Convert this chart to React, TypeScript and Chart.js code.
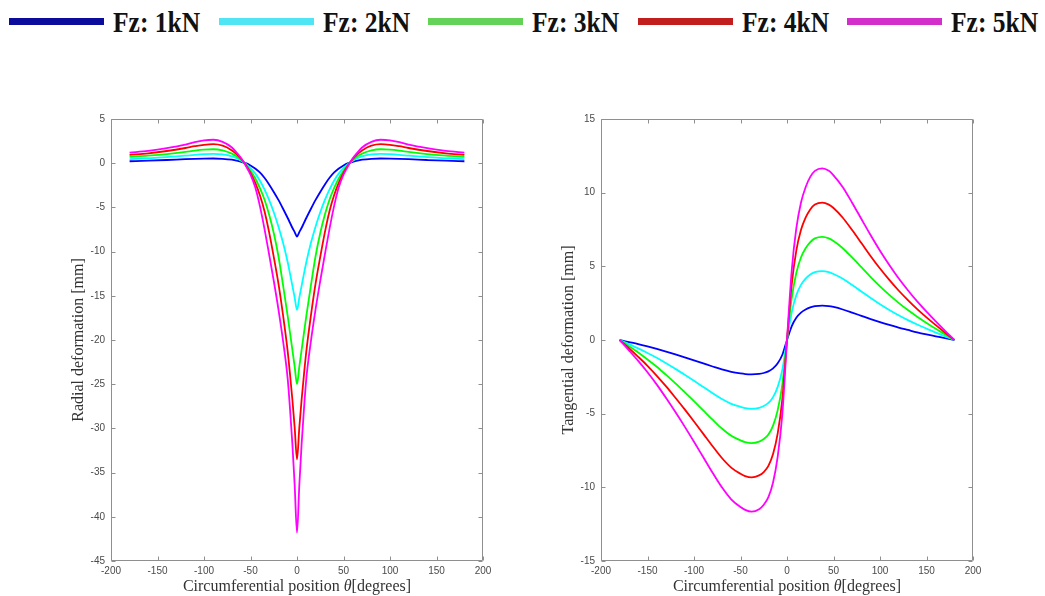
import React, { useEffect, useRef } from 'react';
import { Chart, registerables } from 'chart.js';

Chart.register(...registerables);

const seriesNames = ['Fz: 1kN', 'Fz: 2kN', 'Fz: 3kN', 'Fz: 4kN', 'Fz: 5kN'];
const lineColors = ['#0000ff', '#00ffff', '#00ff00', '#ff0000', '#ff00ff'];
const legendColors = ['#0c0c9c', '#4fe5f4', '#64d257', '#c21e1e', '#d22ec9'];

// Radial deformation [mm] vs circumferential position [deg]
const radialTheta = [-180, -160, -140, -120, -110, -100, -90, -80, -70, -65, -60, -55, -50, -45, -40, -35, -30, -25, -20, -15, -10, -7.5, -5, -2.5, 0,
  2.5, 5, 7.5, 10, 15, 20, 25, 30, 35, 40, 45, 50, 55, 60, 65, 70, 80, 90, 100, 110, 120, 140, 160, 180];
const radial1 = [0.22, 0.28, 0.36, 0.45, 0.49, 0.52, 0.53, 0.50, 0.40, 0.30, 0.15, 0.00, -0.25, -0.60, -1.05, -1.65, -2.40, -3.25, -4.15, -5.15, -6.20, -6.75, -7.30, -7.80, -8.30,
  -7.80, -7.30, -6.75, -6.20, -5.15, -4.15, -3.25, -2.40, -1.65, -1.05, -0.60, -0.25, 0.00, 0.15, 0.30, 0.40, 0.50, 0.53, 0.52, 0.49, 0.45, 0.36, 0.28, 0.22];
const radial2 = [0.45, 0.55, 0.68, 0.85, 0.95, 1.02, 1.06, 1.00, 0.78, 0.58, 0.28, -0.08, -0.55, -1.15, -1.95, -2.95, -4.15, -5.55, -7.15, -9.00, -11.20, -12.50, -13.85, -15.20, -16.60,
  -15.20, -13.85, -12.50, -11.20, -9.00, -7.15, -5.55, -4.15, -2.95, -1.95, -1.15, -0.55, -0.08, 0.28, 0.58, 0.78, 1.00, 1.06, 1.02, 0.95, 0.85, 0.68, 0.55, 0.45];
const radial3 = [0.72, 0.85, 1.03, 1.28, 1.43, 1.54, 1.58, 1.45, 1.08, 0.78, 0.38, -0.15, -0.85, -1.70, -2.80, -4.10, -5.80, -7.90, -10.50, -13.80, -17.30, -19.20, -21.10, -23.00, -25.00,
  -23.00, -21.10, -19.20, -17.30, -13.80, -10.50, -7.90, -5.80, -4.10, -2.80, -1.70, -0.85, -0.15, 0.38, 0.78, 1.08, 1.45, 1.58, 1.54, 1.43, 1.28, 1.03, 0.85, 0.72];
const radial4 = [0.95, 1.12, 1.38, 1.72, 1.92, 2.08, 2.15, 1.98, 1.45, 1.02, 0.48, -0.22, -1.10, -2.20, -3.60, -5.40, -7.80, -10.60, -13.60, -17.20, -21.30, -23.90, -26.70, -29.90, -33.50,
  -29.90, -26.70, -23.90, -21.30, -17.20, -13.60, -10.60, -7.80, -5.40, -3.60, -2.20, -1.10, -0.22, 0.48, 1.02, 1.45, 1.98, 2.15, 2.08, 1.92, 1.72, 1.38, 1.12, 0.95];
const radial5 = [1.20, 1.40, 1.70, 2.10, 2.38, 2.58, 2.65, 2.42, 1.78, 1.20, 0.55, -0.30, -1.30, -2.70, -4.80, -7.40, -10.30, -13.30, -16.50, -20.10, -24.40, -27.80, -31.70, -36.40, -41.80,
  -36.40, -31.70, -27.80, -24.40, -20.10, -16.50, -13.30, -10.30, -7.40, -4.80, -2.70, -1.30, -0.30, 0.55, 1.20, 1.78, 2.42, 2.65, 2.58, 2.38, 2.10, 1.70, 1.40, 1.20];

// Tangential deformation [mm] vs circumferential position [deg]
const tangTheta = [-180, -170, -160, -150, -140, -130, -120, -110, -100, -90, -80, -70, -60, -50, -45, -38, -30, -25, -20, -15, -10, -5, 0,
  5, 10, 15, 20, 25, 30, 38, 45, 50, 60, 70, 80, 90, 100, 110, 120, 130, 140, 150, 160, 170, 180];
const tang1 = [0, -0.14, -0.28, -0.44, -0.61, -0.79, -0.98, -1.18, -1.38, -1.59, -1.80, -2.00, -2.16, -2.27, -2.31, -2.33, -2.30, -2.24, -2.13, -1.93, -1.58, -1.00, 0,
  0.93, 1.51, 1.86, 2.07, 2.21, 2.30, 2.33, 2.30, 2.24, 2.07, 1.86, 1.64, 1.42, 1.21, 1.02, 0.84, 0.68, 0.52, 0.38, 0.25, 0.12, 0];
const tang2 = [0, -0.28, -0.57, -0.88, -1.21, -1.58, -1.96, -2.36, -2.77, -3.19, -3.61, -4.01, -4.33, -4.54, -4.62, -4.67, -4.60, -4.48, -4.27, -3.88, -3.18, -2.01, 0,
  1.87, 3.04, 3.74, 4.16, 4.44, 4.60, 4.67, 4.60, 4.48, 4.16, 3.74, 3.29, 2.85, 2.43, 2.04, 1.68, 1.35, 1.05, 0.77, 0.50, 0.25, 0];
const tang3 = [0, -0.42, -0.85, -1.32, -1.82, -2.37, -2.94, -3.54, -4.15, -4.78, -5.41, -6.01, -6.50, -6.81, -6.93, -7.00, -6.90, -6.72, -6.41, -5.81, -4.76, -3.01, 0,
  2.80, 4.55, 5.60, 6.23, 6.65, 6.90, 7.00, 6.90, 6.72, 6.23, 5.60, 4.94, 4.27, 3.64, 3.06, 2.52, 2.03, 1.58, 1.16, 0.76, 0.37, 0];
const tang4 = [0, -0.56, -1.14, -1.75, -2.43, -3.15, -3.92, -4.71, -5.53, -6.37, -7.21, -8.01, -8.66, -9.08, -9.24, -9.33, -9.19, -8.96, -8.54, -7.74, -6.34, -4.01, 0,
  3.73, 6.06, 7.46, 8.30, 8.86, 9.19, 9.33, 9.19, 8.96, 8.30, 7.46, 6.58, 5.69, 4.85, 4.08, 3.36, 2.71, 2.10, 1.54, 1.01, 0.49, 0];
const tang5 = [0, -0.70, -1.42, -2.19, -3.03, -3.94, -4.89, -5.88, -6.91, -7.96, -9.01, -10.00, -10.81, -11.34, -11.53, -11.65, -11.48, -11.18, -10.66, -9.67, -7.92, -5.01, 0,
  4.66, 7.57, 9.32, 10.37, 11.07, 11.48, 11.65, 11.48, 11.18, 10.37, 9.32, 8.21, 7.11, 6.06, 5.09, 4.19, 3.38, 2.62, 1.92, 1.26, 0.62, 0];

const xTitleParts = ['Circumferential position ', 'θ', '[degrees]'];
const radialTitle = 'Radial deformation [mm]';
const tangTitle = 'Tangential deformation [mm]';

const tickFont = { family: "'Liberation Sans', Arial, sans-serif", size: 10 };
const tickColor = '#4a4a4a';
const frameColor = '#8f8f8f';

const framePlugin = {
  id: 'matlabFrame',
  afterDraw(chart: any) {
    const { ctx, chartArea: a, scales } = chart;
    const L = Math.round(a.left) + 0.5;
    const R = Math.round(a.right) - 0.5;
    const T = Math.round(a.top) + 0.5;
    const B = Math.round(a.bottom) - 0.5;
    ctx.save();
    ctx.strokeStyle = frameColor;
    ctx.lineWidth = 1;
    ctx.beginPath();
    ctx.rect(L, T, R - L, B - T);
    ctx.stroke();
    const tl = 4;
    ctx.beginPath();
    scales.x.ticks.forEach((t: any) => {
      const px = Math.round(scales.x.getPixelForValue(t.value)) + 0.5;
      ctx.moveTo(px, B); ctx.lineTo(px, B - tl);
      ctx.moveTo(px, T); ctx.lineTo(px, T + tl);
    });
    scales.y.ticks.forEach((t: any) => {
      const py = Math.round(scales.y.getPixelForValue(t.value)) + 0.5;
      ctx.moveTo(L, py); ctx.lineTo(L + tl, py);
      ctx.moveTo(R, py); ctx.lineTo(R - tl, py);
    });
    ctx.stroke();

    // x-axis title with italic theta
    const normal = "16px 'Liberation Serif', 'Times New Roman', serif";
    const italic = "italic 16px 'Liberation Serif', 'Times New Roman', serif";
    const fonts = [normal, italic, normal];
    const widths = xTitleParts.map((p, i) => { ctx.font = fonts[i]; return ctx.measureText(p).width; });
    const total = widths.reduce((s, w) => s + w, 0);
    let x = (a.left + a.right) / 2 - total / 2;
    const y = a.bottom + 26;
    ctx.fillStyle = '#333333';
    ctx.textBaseline = 'middle';
    ctx.textAlign = 'left';
    xTitleParts.forEach((p, i) => {
      ctx.font = fonts[i];
      ctx.fillText(p, x, y);
      x += widths[i];
    });
    ctx.restore();
  },
};

function makeConfig(theta: number[], series: number[][], yMin: number, yMax: number, yTitle: string): any {
  return {
    type: 'line',
    data: {
      datasets: series.map((vals, i) => ({
        label: seriesNames[i],
        data: theta.map((t, j) => ({ x: t, y: vals[j] })),
        borderColor: lineColors[i],
        backgroundColor: lineColors[i],
        borderWidth: 1.8,
        pointRadius: 0,
        fill: false,
        cubicInterpolationMode: 'monotone',
        order: 4 - i,
      })),
    },
    options: {
      animation: false,
      responsive: false,
      maintainAspectRatio: false,
      layout: { padding: { top: 19, right: 17, left: 0, bottom: 0 } },
      plugins: { legend: { display: false }, tooltip: { enabled: false } },
      scales: {
        x: {
          type: 'linear',
          min: -200,
          max: 200,
          grid: { display: false, drawTicks: false },
          border: { display: false },
          ticks: { stepSize: 50, padding: 4, font: tickFont, color: tickColor, maxRotation: 0, autoSkip: false },
          afterFit: (s: any) => { s.height = 35; },
        },
        y: {
          type: 'linear',
          min: yMin,
          max: yMax,
          grid: { display: false, drawTicks: false },
          border: { display: false },
          ticks: { stepSize: 5, padding: 6, font: tickFont, color: tickColor, autoSkip: false },
          title: {
            display: true,
            text: yTitle,
            color: '#333333',
            font: { family: "'Liberation Serif', 'Times New Roman', serif", size: 16 },
            padding: { top: 9, bottom: 0 },
          },
          afterFit: (s: any) => { s.width = 51; },
        },
      },
    },
    plugins: [framePlugin],
  };
}

function ChartCanvas({ config, left, top }: { config: any; left: number; top: number }) {
  const ref = useRef<HTMLCanvasElement | null>(null);
  useEffect(() => {
    if (!ref.current) return;
    const chart = new Chart(ref.current, config);
    return () => chart.destroy();
  }, [config]);
  return (
    <canvas
      ref={ref}
      width={440}
      height={496}
      style={{ position: 'absolute', left, top, width: 440, height: 496 }}
    />
  );
}

const radialConfig = makeConfig(radialTheta, [radial1, radial2, radial3, radial4, radial5], -45, 5, radialTitle);
const tangConfig = makeConfig(tangTheta, [tang1, tang2, tang3, tang4, tang5], -15, 15, tangTitle);

export default function App() {
  return (
    <div style={{ position: 'fixed', left: 0, top: 0, width: 1045, height: 596, background: '#ffffff', overflow: 'hidden' }}>
      {seriesNames.map((name, i) => {
        const x0 = 9 + i * 209.5;
        return (
          <React.Fragment key={name}>
            <div style={{ position: 'absolute', left: x0, top: 17.5, width: 95, height: 7, background: legendColors[i] }} />
            <div
              style={{
                position: 'absolute',
                left: x0 + 104,
                top: 8,
                fontFamily: "'Liberation Serif', 'Times New Roman', serif",
                fontWeight: 'bold',
                fontSize: 29,
                lineHeight: '29px',
                color: '#111111',
                whiteSpace: 'nowrap',
                transform: 'scaleX(0.88)',
                transformOrigin: 'left top',
              }}
            >
              {name}
            </div>
          </React.Fragment>
        );
      })}
      <ChartCanvas config={radialConfig} left={60} top={100} />
      <ChartCanvas config={tangConfig} left={550} top={100} />
    </div>
  );
}
